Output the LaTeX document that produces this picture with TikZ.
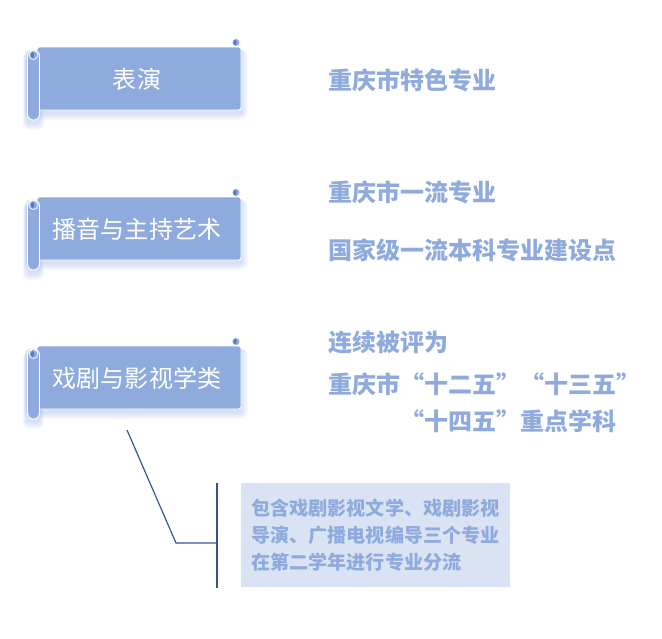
\documentclass[tikz,border=0pt]{standalone}
\usepackage{fontspec}
\newfontfamily\cjk{Noto Sans CJK SC}
\usetikzlibrary{calc}

\definecolor{scrollblue}{HTML}{8FAADC}
\definecolor{scrolldark}{HTML}{5B7BC0}
\definecolor{glowblue}{HTML}{9DB5E6}
\definecolor{notefill}{HTML}{DAE3F3}
\definecolor{linkblue}{HTML}{2F5597}

% 全角引号
\newcommand{\oq}{\makebox[1em][r]{“}}
\newcommand{\cq}{\makebox[1em][l]{”}}

\tikzset{
    scroll/.pic={
        % 柔和阴影
        \foreach \s in {1,...,7} {
            \fill[glowblue, opacity=0.07, rounded corners=\s] (-9-\s*0.6,4-\s*0.3) rectangle (204+\s,66+\s);
            \fill[glowblue, opacity=0.07, rounded corners=5] (-10-\s*0.6,6) rectangle (3+\s*0.6,76+\s);
        }
        % 右上角卷边
        \filldraw[fill=scrollblue, draw=white, line width=0.6pt] (199,-4.5) circle (4);
        \fill[scrolldark] (198,-4.5) ellipse (1.6 and 2.7);
        % 主体
        \filldraw[fill=scrollblue, draw=white, line width=0.8pt, rounded corners=2] (0,0) rectangle (204,63);
        % 左侧卷轴
        \filldraw[fill=scrollblue, draw=white, line width=0.8pt, rounded corners=5] (-9.5,3) rectangle (2.5,73);
        \filldraw[fill=scrollblue, draw=white, line width=0.6pt] (-3.5,8) circle (4.5);
        \fill[scrolldark] (-4.5,8) ellipse (1.6 and 3);
    },
    boxlabel/.style={font=\cjk\fontsize{20.5}{24}\selectfont, text=white, inner sep=0pt, anchor=base},
    honor/.style={font=\cjk\bfseries\fontsize{20.5}{24}\selectfont, text=scrollblue, inner sep=0pt, anchor=base west},
    notebox/.style={fill=notefill, font=\cjk\bfseries\fontsize{16.3}{23.05}\selectfont, text=scrollblue,
        align=left, inner sep=0pt, minimum width={269*0.03cm}, minimum height={104*0.03cm}},
    link/.style={draw=linkblue, line width=1pt}
}

\begin{document}
\begin{tikzpicture}[x=0.03cm, y=-0.03cm]

    \useasboundingbox (0,0) rectangle (662,639);

    % 1. 三个卷轴标签
    \foreach \y/\name/\label in {47/perform/表演, 197/broadcast/播音与主持艺术, 346/drama/戏剧与影视学类} {
        \pic at (37,\y) {scroll};
        \node[boxlabel] (\name) at (137,{\y+41}) {\label};
    }

    % 2. 右侧荣誉文字
    \node[honor] (perfNote) at (328,89) {重庆市特色专业};
    \node[honor] (castNoteA) at (328,201) {重庆市一流专业};
    \node[honor] (castNoteB) at (328,259) {国家级一流本科专业建设点};
    \node[honor] (dramaNoteA) at (328,351) {连续被评为};
    \node[honor] (dramaNoteB) at (328,393) {重庆市\oq 十二五\cq\oq 十三五\cq};
    \node[honor] (dramaNoteC) at (400,430) {\oq 十四五\cq 重点学科};

    % 3. 说明框
    \node[notebox] (note) at (375.5,535)
        {包含戏剧影视文学、戏剧影视\\导演、广播电视编导三个专业\\在第二学年进行专业分流};

    % 4. 连线
    \coordinate (linkStart) at (127,430);
    \coordinate (linkBend) at (176,543);
    \coordinate (braceTop) at (217,483);
    \coordinate (braceBot) at (217,588);
    \draw[link] (linkStart) -- (linkBend) -- (braceTop |- linkBend);
    \draw[link] (braceTop) -- (braceBot);

\end{tikzpicture}
\end{document}
